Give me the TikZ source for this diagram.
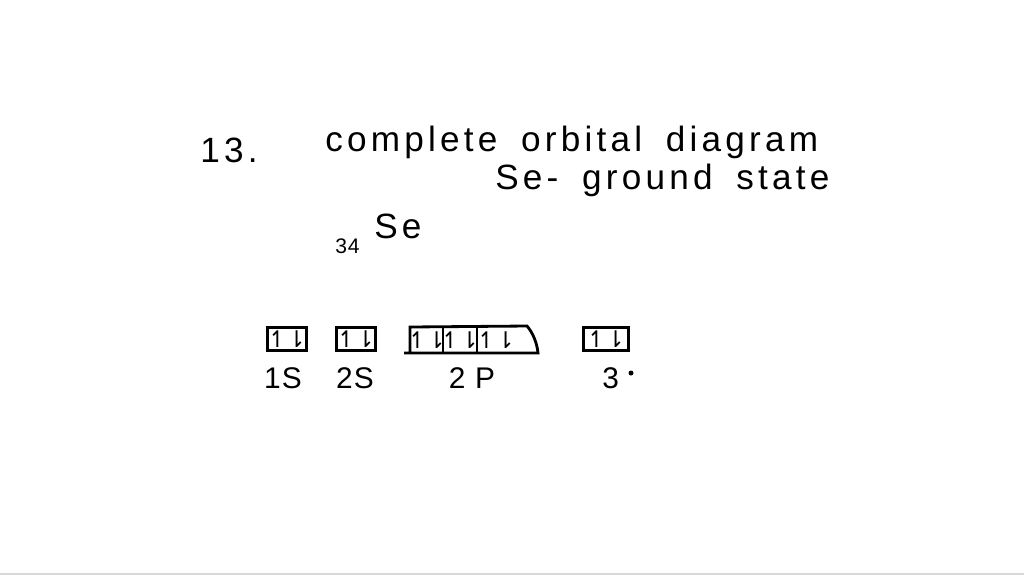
\documentclass[tikz,border=0pt]{standalone}
\usepackage{fontspec}
\setmainfont{Liberation Sans}
\newfontfamily\hand[LetterSpace=12,WordSpace=1.7]{Liberation Sans}
\newfontfamily\handl[LetterSpace=4]{Liberation Sans}
\newfontfamily\arr{DejaVu Sans}
\begin{document}
\begin{tikzpicture}[x=0.02cm,y=-0.02cm,
  txt/.style={inner sep=0pt,font=\hand\fontsize{20}{22}\selectfont},
  lbl/.style={inner sep=0pt,font=\handl\fontsize{17}{18}\selectfont},
  glyph/.style={inner sep=0pt,font=\arr\fontsize{13}{14}\selectfont},
  orb/.style={glyph,draw,line width=1.6pt,minimum height=13.5pt},
  outl/.style={line width=1.6pt}]
\useasboundingbox[fill=white] (0,0) rectangle (1024,576);
\draw[gray!30,line width=1pt] (0,574) -- (1024,574);
\node[txt,anchor=west] (q) at (200,150) {13.};
\node[txt,anchor=west] (t1) at (325,142) {complete orbital diagram};
\node[txt,anchor=west] (t2) at (495,180) {Se- ground state};
\node[txt,anchor=west] (se) at (374,226) {Se};
\node[anchor=west,inner sep=0pt,font=\handl\fontsize{12}{12}\selectfont] (z) at (335,246) {34};
% orbitals
\node[orb,minimum width=13pt] (s1) at (287,339) {↿⇂};
\node[orb,minimum width=16pt] (s2) at (356,339) {↿⇂};
\node[orb,minimum width=26pt] (s3) at (606,339) {↿⇂};
\node[glyph] (p1) at (427,340) {↿⇂};
\node[glyph] (p2) at (460,340) {↿⇂};
\node[glyph] (p3) at (496,340) {↿⇂};
\coordinate (a) at (410,327);
\coordinate (b) at (527,326);
\coordinate (c) at (538,353);
\coordinate (d) at (404,353);
\coordinate (e) at (410,353);
\draw[outl] (e) -- (a) -- (b) .. controls (533,333) and (537,343) .. (c) -- (d);
\draw[outl] (443,327) -- (443,353);
\draw[outl] (477,326) -- (477,353);
\node[lbl] (l1) at (283,378) {1S};
\node[lbl] (l2) at (355,378) {2S};
\node[lbl] (l3) at (472,378) {2 P};
\node[lbl,anchor=west] (l4) at (602,378) {3};
\fill (631,373) circle (2.5);
\end{tikzpicture}
\end{document}
